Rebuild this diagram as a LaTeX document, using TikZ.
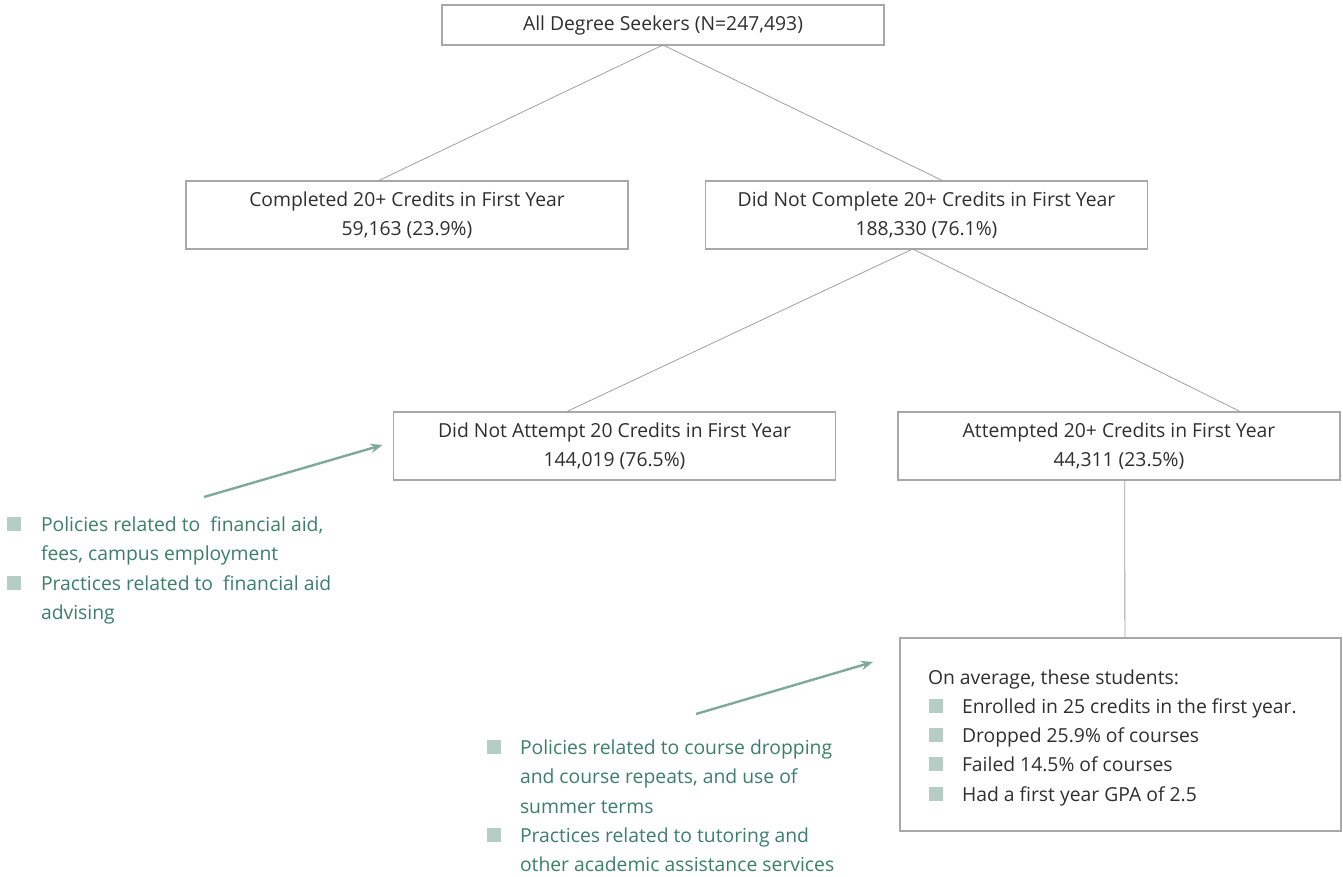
\documentclass[tikz,border=0pt]{standalone}
\usepackage{fontspec}
\setmainfont{Open Sans}
\usetikzlibrary{calc,arrows.meta}
\definecolor{txtgreen}{HTML}{3B7F66}
\definecolor{arrowgreen}{HTML}{7FAA9B}
\definecolor{bulletc}{HTML}{B5CDC5}
\definecolor{boxgray}{HTML}{A8A8A8}
\definecolor{linegray}{HTML}{A0A0A0}
\definecolor{txtdark}{HTML}{2F2F2F}
\begin{document}
\begin{tikzpicture}[x=0.75pt,y=-0.75pt,
  every node/.style={inner sep=0pt, outer sep=0pt},
  box/.style={draw=boxgray, line width=0.8pt, minimum width=331.5pt, minimum height=51pt,
    align=center, text=txtdark, font=\fontsize{14.5}{22}\selectfont},
  conn/.style={draw=linegray, line width=0.6pt},
  callout/.style={draw=arrowgreen, line width=1.8pt, -{Stealth[length=9pt,width=7pt]}},
  bul/.style={fill=bulletc, minimum width=10pt, minimum height=10pt},
  gline/.style={anchor=base west, text=txtgreen, font=\fontsize{14.5}{22}\selectfont},
  dline/.style={anchor=base west, text=txtdark, font=\fontsize{14.5}{22}\selectfont}
]
\useasboundingbox (0,0) rectangle (1343,877);
% boxes
\node[box, minimum height=30pt] (A) at (663,25) {All Degree Seekers (N=247,493)};
\node[box] (B) at (407,215) {Completed 20+ Credits in First Year\\59,163 (23.9\%)};
\node[box] (C) at (926.5,215) {Did Not Complete 20+ Credits in First Year\\188,330 (76.1\%)};
\node[box] (D) at (614.5,446) {Did Not Attempt 20 Credits in First Year\\144,019 (76.5\%)};
\node[box] (E) at (1119,446) {Attempted 20+ Credits in First Year\\44,311 (23.5\%)};
\node[box, minimum width=330.75pt, minimum height=144.75pt] (F) at (1120.5,734.5) {};
% connectors
\draw[conn] (A.south) -- ($(B.north west)!0.434!(B.north east)$);
\draw[conn] (A.south) -- ($(C.north west)!0.538!(C.north east)$);
\draw[conn] ($(C.south west)!0.469!(C.south east)$) -- ($(D.north west)!0.390!(D.north east)$);
\draw[conn] ($(C.south west)!0.469!(C.south east)$) -- ($(E.north west)!0.776!(E.north east)$);
\draw[conn] ($(E.south west)!0.513!(E.south east)$) -- ($(F.north west)!0.510!(F.north east)$);
% F contents
\node[dline] (f0) at (928,684) {On average, these students:};
\node[bul] (fb1) at (936,706) {};
\node[dline] (f1) at (962,713) {Enrolled in 25 credits in the first year.};
\node[bul] (fb2) at (936,735) {};
\node[dline] (f2) at (962,742) {Dropped 25.9\% of courses};
\node[bul] (fb3) at (936,764) {};
\node[dline] (f3) at (962,771) {Failed 14.5\% of courses};
\node[bul] (fb4) at (936,794) {};
\node[dline] (f4) at (962,801) {Had a first year GPA of 2.5};
% left list
\node[bul] (lb1) at (14,524) {};
\node[gline] (l1a) at (41,531) {Policies related to\ \ financial aid,};
\node[gline] (l1b) at (41,560) {fees, campus employment};
\node[bul] (lb2) at (14,583) {};
\node[gline] (l2a) at (41,590) {Practices related to\ \ financial aid};
\node[gline] (l2b) at (41,619) {advising};
\coordinate (ls) at (204,497);
\draw[callout] (ls) -- ($(D.west)+(-11,-1)$);
% bottom list
\node[bul] (bb1) at (494,747) {};
\node[gline] (b1a) at (520,754) {Policies related to course dropping};
\node[gline] (b1b) at (520,783) {and course repeats, and use of};
\node[gline] (b1c) at (520,813) {summer terms};
\node[bul] (bb2) at (494,835) {};
\node[gline] (b2a) at (520,842) {Practices related to tutoring and};
\node[gline] (b2b) at (520,871) {other academic assistance services};
\coordinate (bs) at (696,714);
\draw[callout] (bs) -- ($(F.north west)+(-27,24)$);
\end{tikzpicture}
\end{document}
